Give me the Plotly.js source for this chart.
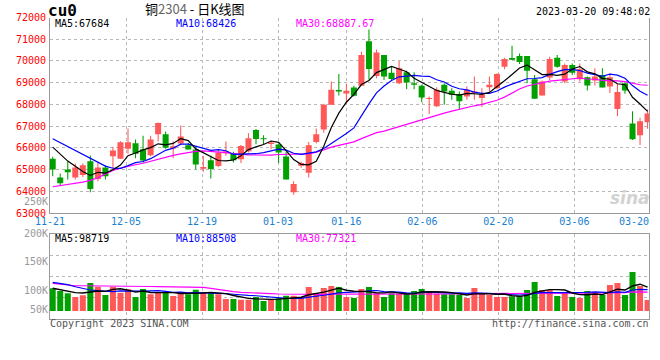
<!DOCTYPE html>
<html><head><meta charset="utf-8">
<script src="https://cdn.plot.ly/plotly-3.0.1.min.js"></script>
<style>html,body{margin:0;padding:0;background:#fff}#chart{width:660px;height:360px}</style>
</head><body><div id="chart"></div>
<script>
// ---------------- data ----------------
const dates = ['11-21','11-22','11-23','11-24','11-25','11-28','11-29','11-30',
 '12-01','12-02','12-05','12-06','12-07','12-08','12-09','12-12','12-13','12-14','12-15','12-16',
 '12-19','12-20','12-21','12-22','12-23','12-26','12-27','12-28','12-29','12-30',
 '01-03','01-04','01-05','01-06','01-09','01-10','01-11','01-12','01-13',
 '01-16','01-17','01-18','01-19','01-20','01-30','01-31',
 '02-01','02-02','02-03','02-06','02-07','02-08','02-09','02-10','02-13','02-14','02-15','02-16','02-17',
 '02-20','02-21','02-22','02-23','02-24','02-27','02-28',
 '03-01','03-02','03-03','03-06','03-07','03-08','03-09','03-10','03-13','03-14','03-15','03-16','03-17','03-20'];

const open = [65492,64631,65000,64631,64754,65385,64569,65092,65615,65492,
 65954,66215,65938,65662,66631,66631,65969,66200,66123,65923,
 65039,65434,65161,65754,65754,65480,65845,66818,66438,66179,
 66149,65602,63960,65176,64857,66270,66848,67988,68657,68505,
 68778,68854,70906,69310,70268,69462,68976,69478,68976,68854,
 68246,67912,68900,68626,68474,68368,68520,68292,68794,68748,
 69736,70131,70222,70222,69158,68414,69234,70146,69052,69812,
 69158,69250,69098,69356,68824,67790,68976,67122,66574,67182];
const high = [65585,64815,65369,65277,65277,65646,65369,65185,66046,66308,
 66892,66385,66554,66554,67169,66754,66308,67031,66231,66077,
 65632,65632,65906,66286,65814,66134,66666,66863,66574,66331,
 66194,65814,64462,65358,66270,66894,68034,69052,69402,68946,
 68854,70420,71450,70526,70268,69766,69994,69554,69478,68900,
 68368,68794,68976,68748,68596,68824,69280,68748,69280,69432,
 70146,70694,70344,70222,69356,69098,70192,70268,69888,69888,
 69888,69280,69660,69660,69432,68976,69022,67684,67380,67760];
const low = [64692,64262,64538,64538,64662,63954,64462,64538,65077,65492,
 65723,65523,65308,65615,66292,65954,65523,66123,65923,65000,
 64902,64583,65115,65632,65328,65298,65784,66164,66164,65936,
 65298,64538,63838,65085,64629,66194,66696,67988,68414,68034,
 68368,68854,69150,69204,69128,69128,68930,68702,68702,68110,
 67562,67882,67988,68216,67760,68216,68216,67882,68596,68702,
 69614,70040,69858,68976,68262,68414,69128,69690,68976,69356,
 69052,68642,68870,68778,68520,67456,68490,66362,66134,66878];
const close = [65000,64369,64877,65092,65200,64108,65092,64692,65877,66262,
 66262,65723,65415,66385,67138,66000,66077,66523,65923,65231,
 65115,65024,65784,65845,65434,66088,66438,66407,66392,66240,
 65784,64538,64340,65298,66118,66620,67988,68672,68596,68626,
 68398,70268,69630,70390,69280,69174,69660,69006,68900,68322,
 68292,68672,68596,68444,68140,68672,68596,68444,68900,69402,
 70086,70055,69949,69554,68262,69052,70086,69736,69812,69462,
 69614,68870,69280,68778,69250,68566,68642,66392,67228,67578];
const volume = [93500,82400,72900,57700,64700,115400,100100,65900,100100,75400,
 89400,57700,90600,68800,78300,78300,61800,74200,68800,87800,
 78300,74200,68800,49400,49400,46600,46600,57700,41200,46600,
 52300,63000,63000,57700,98900,74200,94800,103000,98900,57700,
 53600,90600,98900,72900,57700,72900,70000,74200,82400,90600,
 78300,71300,68800,68800,65900,53600,94800,74200,65900,57700,
 57700,60600,60600,86500,119500,86500,86500,61800,78300,57700,
 53600,82400,78300,65900,107100,115400,65900,160700,103000,45300];

// moving-average values before enough history exists in the window
const ma5Head  = [66030,65690,65390,65150];
const ma10Head = [66420,66240,66050,65860,65680,65490,65310,65160,65060];
const ma30Head = [64210,64260,64300,64350,64420,64500,64620,64800,64960,65060,
 65150,65220,65290,65380,65500,65580,65650,65720,65790,65840,
 65860,65840,65810,65780,65740,65700,65680,65670,65665];
const vma5Head  = [93500,86500,79700,75500];
const vma10Head = [118000,114000,108500,100000,92000,86500,83800,81000,80000];
const vma30Head = [114000,110000,106000,104000,104000,104000,103500,103000,103000,102500,
 102000,102000,101500,101000,100500,100000,100000,99500,99000,98000,
 97000,93000,88000,84000,80000,77000,75000,73000,72000];

const priceTicks = [63000,64000,65000,66000,67000,68000,69000,70000,71000,72000];
const dateTickLabels = ['11-21','12-05','12-19','01-03','01-16','02-06','02-20','03-06','03-20'];
const volTickLabels = ['250K','200K','150K','100K','50K'];

const symbolText = 'cu0';
const titleText = '铜<span style="color:#666666">2304</span> - 日K线图';
const timeText = '2023-03-20 09:48:02';
const priceMaTexts = ['MA5:67684','MA10:68426','MA30:68887.67'];
const volMaTexts = ['MA5:98719','MA10:88508','MA30:77321'];
const footLeft = 'Copyright 2023 SINA.COM';
const footRight = 'http://finance.sina.com.cn';

// ---------------- geometry (pixels) ----------------
const W = 660, H = 360;
const px = v => v / W, py = v => 1 - v / H;
const PL = 50, PR = 649;
const P_TOP = 17.5, P_BOT = 213;
const V_TOP = 234.3, V_BOT = 318.7, V_BASE = 311, V_PER_PX = 4120;
const FIRST_X = 52.7, STEP = 7.53, GRID_STEP = 7.6;
const xr0 = -(FIRST_X - PL) / STEP, xr1 = (PR - FIRST_X) / STEP;
const gridPos = i => xr0 + i * GRID_STEP / STEP;
const labelMax = (634 - FIRST_X) / STEP;
const VOL_LABEL_ROWS = [201, 233, 261, 290, 309];
const MONO = 'DejaVu Sans Mono';
const RED = '#ff5858', GREEN = '#00a000';

// ---------------- derived ----------------
const idx = close.map((_, i) => i);
function movingAvg(vals, n, head) {
  return vals.map((v, i) => i < n - 1 ? head[i] :
    vals.slice(i - n + 1, i + 1).reduce((a, b) => a + b, 0) / n);
}
const up = close.map((c, i) => c >= open[i]);
const colors = up.map(u => u ? RED : GREEN);

const tickIdx = dateTickLabels.map(d => dates.indexOf(d));
const gridTicks = tickIdx.slice(1, -1).map(gridPos);
const labelTicks = tickIdx.map(i => Math.min(gridPos(i), labelMax));

const volRange = [-(V_BOT - V_BASE) * V_PER_PX, (V_BASE - V_TOP) * V_PER_PX];
const volQuarter = (volRange[1] - volRange[0]) / 4;

const traces = [
  { type: 'bar', x: idx, base: low, y: high.map((h, i) => h - low[i]), width: 0.14,
    marker: { color: colors, line: { width: 0 } }, xaxis: 'x', yaxis: 'y', hoverinfo: 'skip' },
  { type: 'bar', x: idx, base: open.map((o, i) => Math.min(o, close[i])),
    y: open.map((o, i) => Math.max(Math.abs(close[i] - o), 40)), width: 0.8,
    marker: { color: colors, line: { width: 0 } }, xaxis: 'x', yaxis: 'y', hoverinfo: 'skip' },
  { type: 'scatter', mode: 'lines', x: idx, y: movingAvg(close, 30, ma30Head),
    line: { color: '#ff00ff', width: 1.2 }, xaxis: 'x', yaxis: 'y', hoverinfo: 'skip' },
  { type: 'scatter', mode: 'lines', x: idx, y: movingAvg(close, 10, ma10Head),
    line: { color: '#0000ff', width: 1.2 }, xaxis: 'x', yaxis: 'y', hoverinfo: 'skip' },
  { type: 'scatter', mode: 'lines', x: idx, y: movingAvg(close, 5, ma5Head),
    line: { color: '#000000', width: 1.2 }, xaxis: 'x', yaxis: 'y', hoverinfo: 'skip' },
  { type: 'bar', x: idx, y: volume, width: 0.8,
    marker: { color: colors, line: { width: 0 } }, xaxis: 'x2', yaxis: 'y2', hoverinfo: 'skip' },
  { type: 'scatter', mode: 'lines', x: idx, y: movingAvg(volume, 30, vma30Head),
    line: { color: '#ff00ff', width: 1.2 }, xaxis: 'x2', yaxis: 'y2', hoverinfo: 'skip' },
  { type: 'scatter', mode: 'lines', x: idx, y: movingAvg(volume, 10, vma10Head),
    line: { color: '#0000ff', width: 1.2 }, xaxis: 'x2', yaxis: 'y2', hoverinfo: 'skip' },
  { type: 'scatter', mode: 'lines', x: idx, y: movingAvg(volume, 5, vma5Head),
    line: { color: '#000000', width: 1.4 }, xaxis: 'x2', yaxis: 'y2', hoverinfo: 'skip' },
  // carriers for the label-only axes
  { type: 'scatter', mode: 'markers', x: [null], y: [null], xaxis: 'x3', yaxis: 'y', hoverinfo: 'skip' },
  { type: 'scatter', mode: 'markers', x: [null], y: [null], xaxis: 'x4', yaxis: 'y3', hoverinfo: 'skip' }
];

const gridCol = '#b8b8b8', lineCol = '#9a9a9a';
const annText = (text, x, y, color, xanchor, size, family, weight) => ({
  text, x: px(x), y: py(y), xref: 'paper', yref: 'paper', xanchor, yanchor: 'middle',
  showarrow: false, borderpad: 0,
  font: { family: family || MONO, size: size || 10, color, weight: weight || 'normal' }
});

const layout = {
  width: W, height: H, margin: { l: 0, r: 0, t: 0, b: 0 },
  paper_bgcolor: '#ffffff', plot_bgcolor: 'rgba(0,0,0,0)',
  showlegend: false, barmode: 'overlay', hovermode: false, dragmode: false,
  xaxis: { domain: [px(PL), px(PR)], range: [xr0, xr1], anchor: 'y',
    tickmode: 'array', tickvals: gridTicks, showticklabels: false, ticks: '',
    showgrid: true, gridcolor: gridCol, griddash: 'dot', gridwidth: 1,
    showline: true, linecolor: lineCol, linewidth: 1, mirror: false, zeroline: false },
  yaxis: { domain: [py(P_BOT), py(P_TOP)], range: [63000, 72000], anchor: 'x',
    tickmode: 'array', tickvals: priceTicks, ticktext: priceTicks.map(String), ticks: '',
    tickfont: { family: MONO, size: 10, color: '#ff0000' }, ticklabelstandoff: 1,
    showgrid: true, gridcolor: gridCol, griddash: 'dot', gridwidth: 1,
    showline: true, linecolor: lineCol, linewidth: 1, mirror: true, zeroline: false },
  xaxis3: { overlaying: 'x', anchor: 'y', side: 'bottom', range: [xr0, xr1],
    tickmode: 'array', tickvals: labelTicks, ticktext: dateTickLabels, ticks: '',
    tickfont: { family: MONO, size: 10, color: '#1a7fd0' }, ticklabelstandoff: 1,
    showgrid: false, showline: false, zeroline: false },
  xaxis2: { domain: [px(PL), px(PR)], range: [xr0, xr1], anchor: 'y2',
    tickmode: 'array', tickvals: gridTicks, showticklabels: false, ticks: '',
    showgrid: true, gridcolor: gridCol, griddash: 'dot', gridwidth: 1,
    showline: true, linecolor: lineCol, linewidth: 1, mirror: true, zeroline: false },
  yaxis2: { domain: [py(V_BOT), py(V_TOP)], range: volRange, anchor: 'x2',
    tickmode: 'linear', tick0: volRange[0] + volQuarter, dtick: volQuarter,
    showticklabels: false, ticks: '',
    showgrid: true, gridcolor: gridCol, griddash: 'dot', gridwidth: 1,
    showline: true, linecolor: lineCol, linewidth: 1, mirror: true, zeroline: false },
  xaxis4: { domain: [px(PL), px(PR)], range: [0, 1], anchor: 'y3', visible: false },
  yaxis3: { domain: [py(V_BOT), py(195)], range: [V_BOT, 195], anchor: 'x4',
    tickmode: 'array', tickvals: VOL_LABEL_ROWS, ticktext: volTickLabels, ticks: '',
    tickfont: { family: MONO, size: 10, color: '#999999' }, ticklabelstandoff: 1,
    showgrid: false, showline: false, zeroline: false },
  annotations: [
    annText(symbolText, 47, 10, '#000000', 'left', 16, MONO, 'bold'),
    annText(titleText, 195, 8.5, '#000000', 'center', 13, 'Noto Sans CJK SC'),
    annText(timeText, 651, 11, '#000000', 'right', 10),
    annText(priceMaTexts[0], 54, 24, '#000000', 'left'),
    annText(priceMaTexts[1], 174.5, 24, '#0000ff', 'left'),
    annText(priceMaTexts[2], 294.5, 24, '#ff00ff', 'left'),
    annText(volMaTexts[0], 54, 238, '#000000', 'left'),
    annText(volMaTexts[1], 174.5, 238, '#0000ff', 'left'),
    annText(volMaTexts[2], 294.5, 238, '#ff00ff', 'left'),
    annText(footLeft, 48.5, 323.5, '#555555', 'left'),
    annText(footRight, 650, 323.5, '#555555', 'right'),
    annText('<i><b>sina</b></i>', 630, 198, '#d2d2d2', 'center', 17, 'DejaVu Sans')
  ]
};

Plotly.newPlot('chart', traces, layout, { staticPlot: true, displayModeBar: false });
</script>
</body></html>
